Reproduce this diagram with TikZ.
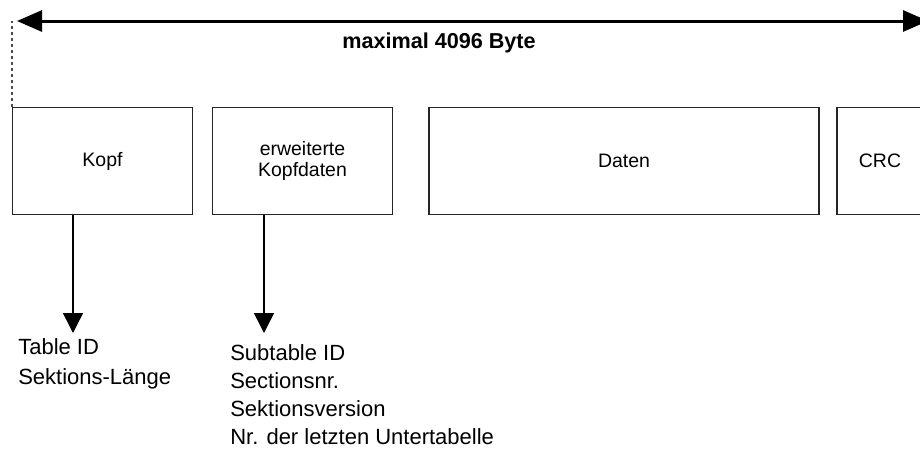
\documentclass[tikz,border=0pt]{standalone}
\usepackage{fontspec}
\setmainfont{Liberation Sans}
\usetikzlibrary{arrows.meta}

\tikzset{
  field/.style={draw=black!85, line width=1.1pt, inner sep=0pt,
    minimum height=80pt, align=center,
    font=\fontsize{14.6}{15.8}\selectfont},
  spanline/.style={line width=2.25pt,
    {Triangle[length=18.75pt,width=15.75pt]}-{Triangle[length=18.75pt,width=15.75pt]}},
  guide/.style={draw=black!70, line width=1.1pt, dash pattern=on 2.25pt off 2.25pt},
  pointer/.style={line width=1.1pt, -{Triangle[length=15pt,width=15pt]}},
  itemlist/.style={inner sep=0pt, anchor=north west, align=left},
  heading/.style={font=\fontsize{16.2}{18}\selectfont\bfseries}
}

\begin{document}
\begin{tikzpicture}[x=0.75pt, y=-0.75pt]
  \useasboundingbox (0,0) rectangle (920,450);

  % the four fields of a section
  \node[field, minimum width=135pt] (kopf)  at (102.5,161) {Kopf};
  \node[field, minimum width=135pt] (ext)   at (302.5,161) {erweiterte\\Kopfdaten};
  \node[field, minimum width=292.5pt] (daten) at (624,161) {Daten};
  \node[field, minimum width=64.5pt] (crc)  at (880,161) {CRC};

  % overall length
  \coordinate (spanL) at (17,21);
  \coordinate (spanR) at (928,21);
  \draw[spanline] (spanL) -- (spanR);
  \node[heading, anchor=base] (maxlen) at (439,48) {maximal 4096 Byte};
  \draw[guide] (kopf.north west) -- (kopf.north west |- spanL);

  % contents of the header fields
  \node[itemlist, font=\fontsize{16.5}{22.5}\selectfont] (kopfinfo) at (18,338)
    {Table ID\\Sektions-Länge};
  \node[itemlist, font=\fontsize{16.5}{21.1}\selectfont] (extinfo) at (230,344)
    {Subtable ID\\Sectionsnr.\\Sektionsversion\\Nr. der letzten Untertabelle};

  \coordinate (tipA) at (73,333);
  \coordinate (tipB) at (264,333);
  \draw[pointer] (kopf.south -| tipA) -- (tipA);
  \draw[pointer] (ext.south -| tipB) -- (tipB);
\end{tikzpicture}
\end{document}
